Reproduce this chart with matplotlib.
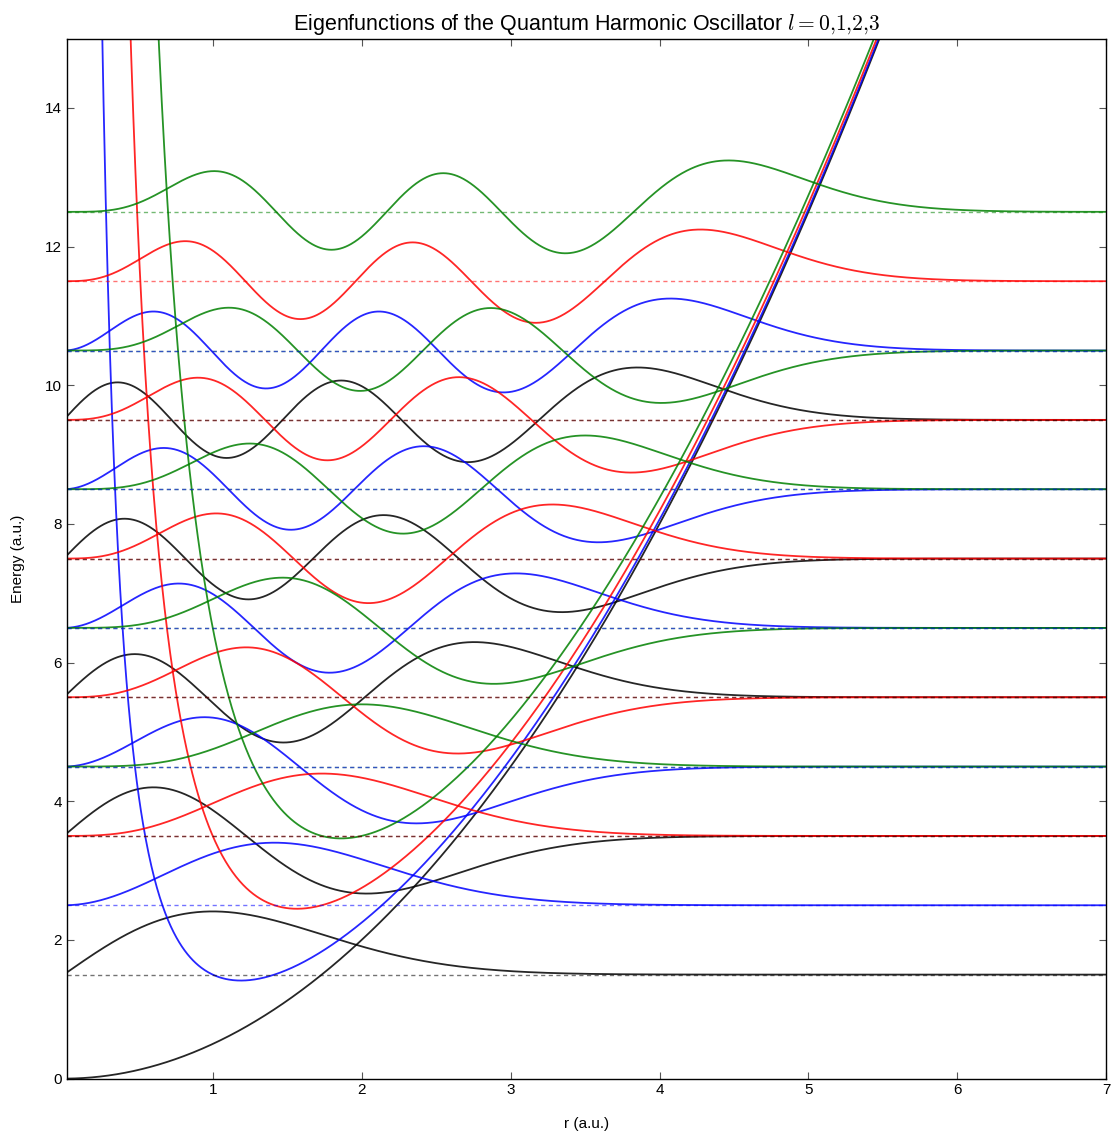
import math
import numpy as np
import matplotlib
matplotlib.use("Agg")
import matplotlib.pyplot as plt

plt.rcParams['font.family'] = ['Liberation Sans', 'DejaVu Sans']
plt.rcParams['mathtext.fontset'] = 'cm'

# quantum numbers and the energy levels
l_values = [0, 1, 2, 3]
n_values = [0, 1, 2, 3, 4]
energies = [
    [1.5, 3.5, 5.5, 7.5, 9.5],      # l = 0
    [2.5, 4.5, 6.5, 8.5, 10.5],     # l = 1
    [3.5, 5.5, 7.5, 9.5, 11.5],     # l = 2
    [4.5, 6.5, 8.5, 10.5, 12.5],    # l = 3
]
line_colors = ['k', 'b', 'r', 'g']

x_ticks = [1, 2, 3, 4, 5, 6, 7]
y_ticks = [0, 2, 4, 6, 8, 10, 12, 14]

r = np.linspace(0.02, 7, 1500)


def laguerre(n, alpha, x):
    # generalised Laguerre polynomial by recursion
    if n == 0:
        return np.ones_like(x)
    L0 = np.ones_like(x)
    L1 = 1.0 + alpha - x
    for k in range(1, n):
        L0, L1 = L1, ((2 * k + 1 + alpha - x) * L1 - (k + alpha) * L0) / (k + 1)
    return L1


def radial_u(n, l, r):
    norm = math.sqrt(2.0 * math.factorial(n) / math.gamma(n + l + 1.5))
    return norm * r ** (l + 1) * np.exp(-r ** 2 / 2) * laguerre(n, l + 0.5, r ** 2)


fig, ax = plt.subplots(figsize=(11.13, 11.33), dpi=100)
fig.subplots_adjust(left=0.06, right=0.994, bottom=0.048, top=0.966)

# potentials and wavefunctions
for l, col, Es in zip(l_values, line_colors, energies):
    V = r ** 2 / 2 + l * (l + 1) / (2 * r ** 2)
    ax.plot(r, V, color=col, lw=1.3, alpha=0.85)
    for n, E in zip(n_values, Es):
        ax.plot(r, E + radial_u(n, l, r), color=col, lw=1.3, alpha=0.85)

# energy levels (higher l drawn first so lower l sits on top)
for l, col, Es in reversed(list(zip(l_values, line_colors, energies))):
    for E in Es:
        ax.axhline(E, color=col, lw=1.0, alpha=0.55, linestyle=(0, (3, 2.5)))

ax.set_xlim(0.02, 7)
ax.set_ylim(0, 15)
ax.set_xticks(x_ticks)
ax.set_yticks(y_ticks)
ax.tick_params(direction='in', top=True, right=True, length=5,
               labelsize=11, color='#555555')
for s in ax.spines.values():
    s.set_linewidth(1.0)

ax.set_xlabel('r (a.u.)', fontsize=11, labelpad=14)
ax.set_ylabel('Energy (a.u.)', fontsize=11, labelpad=14)
ax.set_title(r'Eigenfunctions of the Quantum Harmonic Oscillator $l=0{,}1{,}2{,}3$',
             fontsize=15.5)

fig.savefig('out.png', dpi=100)
